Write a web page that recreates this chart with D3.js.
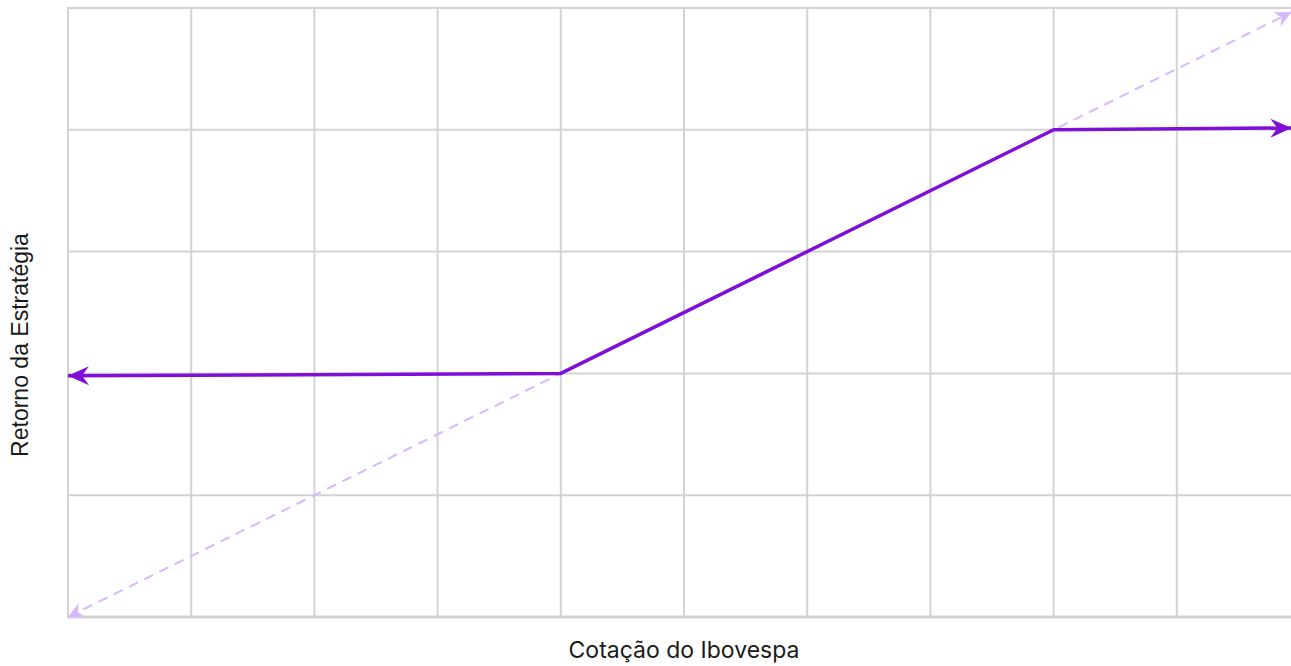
<!DOCTYPE html>
<html>
<head>
<meta charset="utf-8">
<script src="https://cdn.jsdelivr.net/npm/d3@7"></script>
<style>
  body { margin: 0; overflow: hidden; background: #fff; }
</style>
</head>
<body>
<svg id="chart" width="1291" height="666"></svg>
<script>
// payoff of the strategy vs. index price (grid units)
let xTicks = [0, 1, 2, 3, 4, 5, 6, 7, 8, 9, 10];
let yTicks = [0, 1, 2, 3, 4, 5];
let payoffX = [0, 4, 8, 9.93];
let payoffY = [1.98, 2, 4, 4.015];
let refX = [0, 9.93];
let refY = [0, 4.965];

let svg = d3.select("#chart");

let x = d3.scaleLinear().domain([0, 10]).range([68, 1300]);
let y = d3.scaleLinear().domain([0, 5]).range([617, 8]);

// arrow heads
let defs = svg.append("defs");
defs.append("marker")
    .attr("id", "arrowSolid")
    .attr("markerUnits", "userSpaceOnUse")
    .attr("viewBox", "-22 -10 24 20")
    .attr("markerWidth", 24).attr("markerHeight", 20)
    .attr("refX", 0).attr("refY", 0)
    .attr("orient", "auto-start-reverse")
    .append("path")
    .attr("d", "M0,0 L-21,-9.5 L-14,0 L-21,9.5 Z")
    .attr("fill", "#7f0fd8");
defs.append("marker")
    .attr("id", "arrowDash")
    .attr("markerUnits", "userSpaceOnUse")
    .attr("viewBox", "-17 -9 19 18")
    .attr("markerWidth", 19).attr("markerHeight", 18)
    .attr("refX", 0).attr("refY", 0)
    .attr("orient", "auto-start-reverse")
    .append("path")
    .attr("d", "M0,0 L-16,-8 L-11,0 L-16,8 Z")
    .attr("fill", "#d6b8ff");

// grid
svg.append("g").selectAll("line")
    .data(xTicks).enter()
    .append("line")
    .attr("x1", d => x(d)).attr("x2", d => x(d))
    .attr("y1", y(5)).attr("y2", y(0))
    .attr("stroke", "#d3d3d3").attr("stroke-width", 2);
svg.append("g").selectAll("line")
    .data(yTicks).enter()
    .append("line")
    .attr("x1", x(0) - 1).attr("x2", x(10))
    .attr("y1", d => y(d)).attr("y2", d => y(d))
    .attr("stroke", "#d3d3d3").attr("stroke-width", d => d === 0 ? 3 : 2);

let line = d3.line().x(d => x(d[0])).y(d => y(d[1]));

// reference (buy and hold) dashed line
svg.append("path")
    .datum(d3.zip(refX, refY))
    .attr("d", line)
    .attr("fill", "none")
    .attr("stroke", "#d6b8ff")
    .attr("stroke-width", 2)
    .attr("stroke-dasharray", "10,7")
    .attr("marker-start", "url(#arrowDash)")
    .attr("marker-end", "url(#arrowDash)");

// strategy payoff
svg.append("path")
    .datum(d3.zip(payoffX, payoffY))
    .attr("d", line)
    .attr("fill", "none")
    .attr("stroke", "#7f0fd8")
    .attr("stroke-width", 3.5)
    .attr("stroke-linejoin", "round")
    .attr("marker-start", "url(#arrowSolid)")
    .attr("marker-end", "url(#arrowSolid)");

// axis titles
svg.append("text")
    .attr("x", 684).attr("y", 658)
    .attr("text-anchor", "middle")
    .attr("font-family", "Inter, 'Open Sans', sans-serif")
    .attr("font-size", 23)
    .attr("fill", "#1a1a1a")
    .text("Cotação do Ibovespa");

svg.append("text")
    .attr("transform", "translate(28,345) rotate(-90)")
    .attr("text-anchor", "middle")
    .attr("font-family", "'Liberation Sans', Arial, sans-serif")
    .attr("font-size", 23)
    .attr("fill", "#1a1a1a")
    .text("Retorno da Estratégia");
</script>
</body>
</html>
